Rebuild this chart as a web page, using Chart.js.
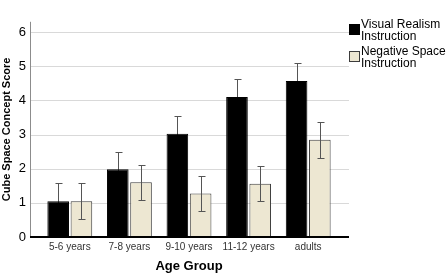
<!DOCTYPE html>
<html>
<head>
<meta charset="utf-8">
<script src="https://cdn.jsdelivr.net/npm/chart.js@4.4.0/dist/chart.umd.min.js"></script>
<style>
    body { margin: 0; background: #fff; }
    canvas { display: block; }
</style>
</head>
<body>
<canvas id="ageChart" width="447" height="274"></canvas>
<script>
// Данные графика
const categories = ['5-6 years', '7-8 years', '9-10 years', '11-12 years', 'adults'];
const visualRealism = [1.05, 1.98, 3.02, 4.10, 4.57];
const visualRealismErr = [0.52, 0.52, 0.53, 0.53, 0.52];
const negativeSpace = [1.05, 1.60, 1.27, 1.56, 2.85];
const negativeSpaceErr = [0.52, 0.52, 0.52, 0.52, 0.53];
const yTicks = [0, 1, 2, 3, 4, 5, 6];
const legendLines = [['Visual Realism', 'Instruction'], ['Negative Space', 'Instruction']];
const errors = [visualRealismErr, negativeSpaceErr];

const canvas = document.getElementById('ageChart');

// Рисуем планки погрешностей для одного набора данных
function drawErrorBars(chart, i) {
    const ctx = chart.ctx;
    const y = chart.scales.y;
    const ds = chart.data.datasets[i];
    const meta = chart.getDatasetMeta(i);
    ctx.save();
    ctx.strokeStyle = '#555';
    ctx.lineWidth = 1;
    meta.data.forEach((bar, j) => {
        const v = ds.data[j];
        const e = errors[i][j];
        const px = Math.round(bar.x) + 0.5;
        const top = Math.round(y.getPixelForValue(v + e)) + 0.5;
        const bot = Math.round(y.getPixelForValue(v - e)) + 0.5;
        ctx.beginPath();
        ctx.moveTo(px, top);
        ctx.lineTo(px, bot);
        ctx.moveTo(px - 3, top);
        ctx.lineTo(px + 4, top);
        ctx.moveTo(px - 3, bot);
        ctx.lineTo(px + 4, bot);
        ctx.stroke();
    });
    ctx.restore();
}

// Сетка и оси, которые выходят за края категорий (как в SPSS)
const gridPlugin = {
    id: 'gridPlugin',
    beforeDatasetsDraw(chart) {
        const ctx = chart.ctx;
        const y = chart.scales.y;
        const area = chart.chartArea;
        const x0 = area.left - 10;
        const x1 = area.right + 11;
        ctx.save();
        ctx.strokeStyle = '#d9d9d9';
        ctx.lineWidth = 1;
        yTicks.forEach(v => {
            if (v === 0) return;
            const py = Math.round(y.getPixelForValue(v)) + 0.5;
            ctx.beginPath();
            ctx.moveTo(x0, py);
            ctx.lineTo(x1, py);
            ctx.stroke();
        });
        // вертикальная ось
        ctx.strokeStyle = '#8c8c8c';
        ctx.beginPath();
        ctx.moveTo(x0 + 0.5, area.top);
        ctx.lineTo(x0 + 0.5, y.getPixelForValue(0));
        ctx.stroke();
        ctx.restore();
        // у чёрных столбцов нижняя половина планки скрыта самим столбцом
        drawErrorBars(chart, 0);
    },
    afterDatasetsDraw(chart) {
        drawErrorBars(chart, 1);
        const ctx = chart.ctx;
        const y = chart.scales.y;
        const area = chart.chartArea;
        // горизонтальная ось
        const py = y.getPixelForValue(0);
        ctx.save();
        ctx.strokeStyle = '#000';
        ctx.lineWidth = 2;
        ctx.beginPath();
        ctx.moveTo(area.left - 10, py);
        ctx.lineTo(area.right + 11, py);
        ctx.stroke();
        ctx.restore();
    },
    afterDraw(chart) {
        // Легенда справа
        const ctx = chart.ctx;
        ctx.save();
        ctx.font = '12px "Liberation Sans", Arial, sans-serif';
        ctx.textBaseline = 'middle';
        chart.data.datasets.forEach((ds, i) => {
            const top = 24 + i * 27;
            ctx.fillStyle = ds.backgroundColor;
            ctx.fillRect(349, top, 11, 11);
            ctx.strokeStyle = ds.borderColor;
            ctx.lineWidth = 1;
            ctx.strokeRect(349.5, top + 0.5, 10, 10);
            ctx.fillStyle = '#000';
            legendLines[i].forEach((line, k) => {
                ctx.fillText(line, 361, top + 1 + k * 12);
            });
        });
        ctx.restore();
    }
};

new Chart(canvas, {
    type: 'bar',
    data: {
        labels: categories,
        datasets: [
            {
                label: 'Visual Realism Instruction',
                data: visualRealism,
                backgroundColor: '#000000',
                borderColor: '#000000',
                borderWidth: 1,
                borderSkipped: false,
                categoryPercentage: 0.78,
                barPercentage: 0.93,
            },
            {
                label: 'Negative Space Instruction',
                data: negativeSpace,
                backgroundColor: '#ede7d2',
                borderColor: '#3c3c3c',
                borderWidth: 1,
                borderSkipped: false,
                categoryPercentage: 0.78,
                barPercentage: 0.93,
            },
        ],
    },
    options: {
        responsive: false,
        animation: false,
        layout: {
            padding: { top: 3, right: 109, left: 0, bottom: 0 },
        },
        plugins: {
            legend: { display: false },
            tooltip: { enabled: false },
        },
        scales: {
            x: {
                grid: { display: false, drawTicks: false },
                border: { display: false },
                ticks: {
                    color: '#333',
                    padding: 4,
                    font: { family: '"Liberation Sans", Arial, sans-serif', size: 10 },
                },
                title: {
                    display: true,
                    text: 'Age Group',
                    color: '#000',
                    padding: { top: 0, bottom: 0 },
                    font: { family: '"Liberation Sans", Arial, sans-serif', size: 13, weight: 'bold' },
                },
                afterFit(scale) { scale.height = 37; },
            },
            y: {
                min: 0,
                max: 6.3,
                grid: { display: false, drawTicks: false },
                border: { display: false },
                afterBuildTicks(scale) {
                    scale.ticks = yTicks.map(v => ({ value: v }));
                },
                ticks: {
                    color: '#000',
                    padding: 14,
                    font: { family: '"Liberation Sans", Arial, sans-serif', size: 13 },
                },
                title: {
                    display: true,
                    text: 'Cube Space Concept Score',
                    color: '#000',
                    padding: { top: 0, bottom: 0 },
                    font: { family: '"Liberation Sans", Arial, sans-serif', size: 11, weight: 'bold' },
                },
                afterFit(scale) { scale.width = 40; },
            },
        },
    },
    plugins: [gridPlugin],
});
</script>
</body>
</html>
